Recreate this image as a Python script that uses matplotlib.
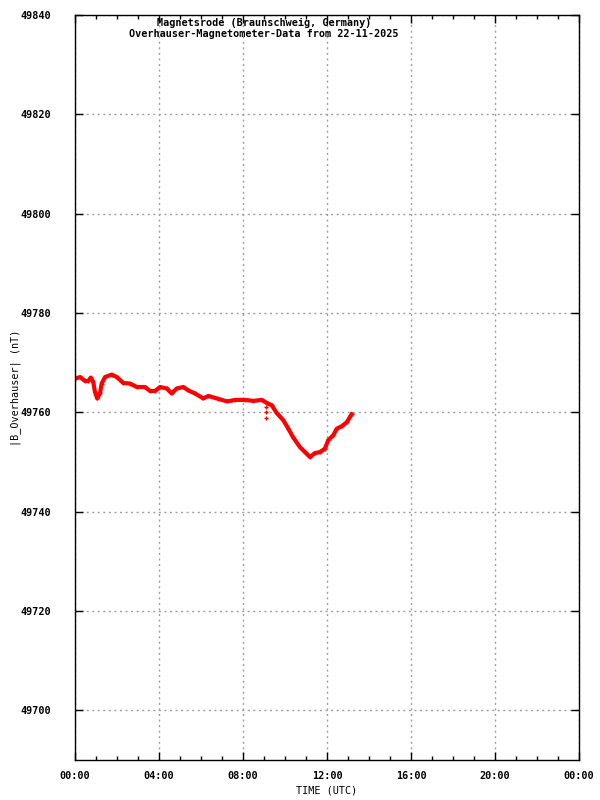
import matplotlib
matplotlib.use("Agg")
import matplotlib.pyplot as plt
from matplotlib.ticker import MultipleLocator, FuncFormatter

# Zeit in Stunden (UTC) und Feldstaerke in nT
hours = [0.00, 0.24, 0.48, 0.63, 0.75, 0.87, 0.95, 1.06, 1.19, 1.27, 1.43,
         1.75, 1.99, 2.30, 2.62, 2.94, 3.33, 3.57, 3.81, 4.05, 4.37, 4.60,
         4.84, 5.16, 5.40, 5.71, 6.11, 6.35, 6.83, 7.24, 7.63, 8.10, 8.49,
         8.89, 9.13, 9.37, 9.60, 9.92, 10.16, 10.38, 10.71, 10.95, 11.19,
         11.43, 11.67, 11.90, 12.06, 12.30, 12.46, 12.70, 12.94, 13.17]
field = [49766.8, 49767.1, 49766.3, 49766.3, 49767.0, 49766.1, 49764.1,
         49762.8, 49763.8, 49765.8, 49767.1, 49767.6, 49767.1, 49765.9,
         49765.8, 49765.1, 49765.1, 49764.3, 49764.3, 49765.1, 49764.8,
         49763.8, 49764.8, 49765.1, 49764.4, 49763.8, 49762.8, 49763.3,
         49762.7, 49762.2, 49762.5, 49762.5, 49762.3, 49762.5, 49761.9,
         49761.4, 49759.9, 49758.4, 49756.7, 49755.0, 49753.0, 49752.0,
         49751.0, 49751.8, 49752.0, 49752.7, 49754.4, 49755.4, 49756.7,
         49757.2, 49758.0, 49759.6]

# Ausreisser
spike_hours = [9.10, 9.10, 9.10]
spike_field = [49761.1, 49760.1, 49758.9]

plt.rcParams['font.family'] = ['DejaVu Sans Mono']
plt.rcParams['font.weight'] = 'bold'
plt.rcParams['font.size'] = 7.3

fig = plt.figure(figsize=(6, 8), dpi=100)
ax = fig.add_axes([0.125, 0.05, 0.84, 0.93125])

ax.plot(hours, field, color='red', lw=3, marker='+', ms=3, mew=1)
ax.plot(spike_hours, spike_field, ls='none', color='red', marker='+', ms=3, mew=1)

ax.set_xlim(0, 24)
ax.set_ylim(49690, 49840)
ax.xaxis.set_major_locator(MultipleLocator(4))
ax.xaxis.set_minor_locator(MultipleLocator(1))
ax.xaxis.set_major_formatter(FuncFormatter(lambda v, p: "%02d:00" % (int(v) % 24)))
ax.set_yticks(range(49700, 49841, 20))
ax.tick_params(which='both', direction='in', top=True, right=True, width=1)
ax.tick_params(which='major', length=6)
ax.tick_params(axis='x', which='major', pad=8)
ax.tick_params(axis='y', which='major', pad=17)
ax.tick_params(which='minor', length=3)
ax.grid(True, which='major', color='#a0a0a0', ls=(0, (1.5, 2.5)), lw=1)
for s in ax.spines.values():
    s.set_linewidth(1)

ax.set_xlabel("TIME (UTC)")
ax.set_ylabel("|B_Overhauser| (nT)")
ax.xaxis.set_label_coords(0.5, -0.034)
ax.yaxis.set_label_coords(-0.107, 0.5)

fig.text(0.44, 0.978, "Magnetsrode (Braunschweig, Germany)\nOverhauser-Magnetometer-Data from 22-11-2025",
         ha='center', va='top', linespacing=1.2)

fig.savefig("out.png", dpi=100)
